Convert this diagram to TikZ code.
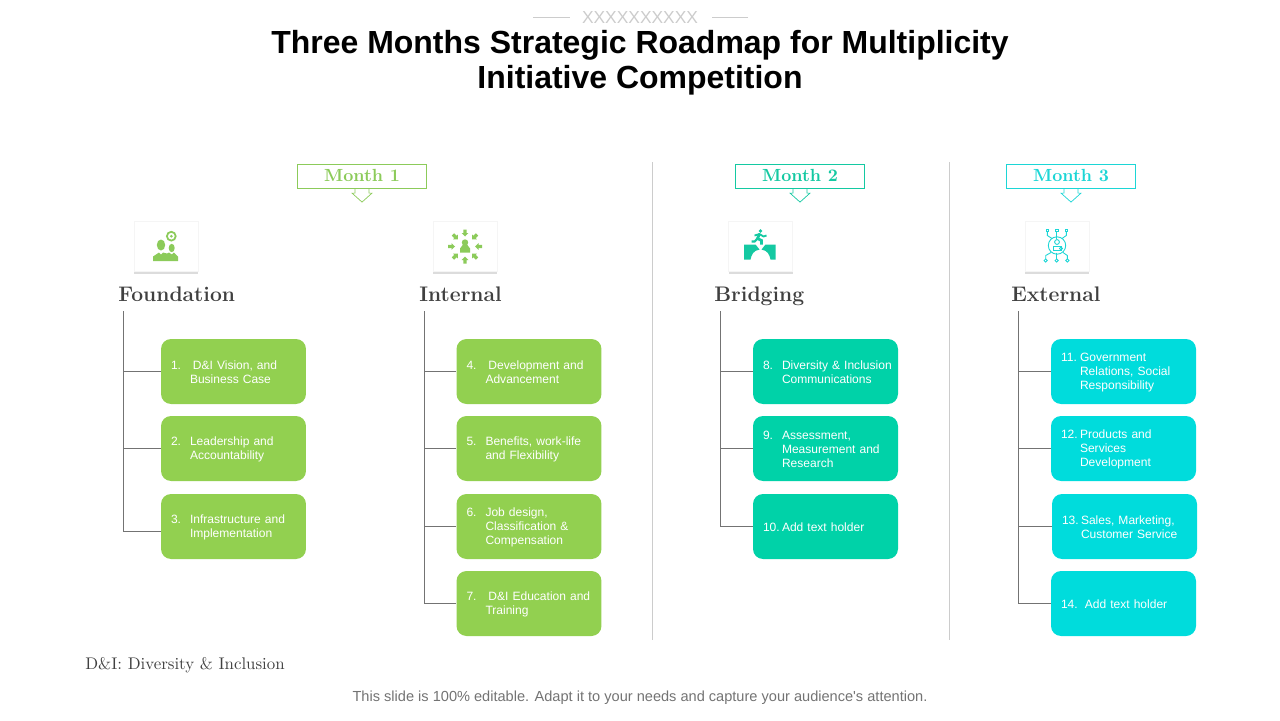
\documentclass[tikz,border=0pt]{standalone}
\usepackage{fontspec}
\usetikzlibrary{calc,shadows}
\newfontfamily\arialfont{Liberation Sans}
\definecolor{leaf}{HTML}{92D050}
\definecolor{leafdark}{HTML}{8CCB5A}
\definecolor{teal}{HTML}{00D2A8}
\definecolor{tealdark}{HTML}{14C9A2}
\definecolor{aqua}{HTML}{00DCDC}
\definecolor{aquadark}{HTML}{1CD6D6}
\definecolor{inkgrey}{HTML}{404040}
\tikzset{
	itembox/.style={rounded corners=0.2cm, minimum width=2.9cm, minimum height=1.3cm, inner xsep=0, inner ysep=0, text width=2.9cm, align=left, text=white, font=\arialfont\fontsize{6.85}{7.94}\selectfont},
	card/.style={fill=white, draw=black!4, minimum width=1.28cm, minimum height=1cm, drop shadow={shadow xshift=0, shadow yshift=-0.06cm, opacity=0.3, fill=black!45}},
	monthbox/.style={draw=#1, fill=white, line width=0.4pt, minimum width=2.58cm, minimum height=0.49cm, inner sep=0, text height=7pt, text depth=1.2pt, text=#1, font=\bfseries\fontsize{10}{12}\selectfont},
	heading/.style={anchor=base west, inner sep=0, text=inkgrey, font=\bfseries\fontsize{12}{14}\selectfont},
	branch/.style={draw=black!55, line width=0.5pt},
	divider/.style={draw=black!20, line width=0.5pt}
}
\def\itemnode[#1](#2)(#3,#4)#5#6{\node[itembox, fill=#1] (#2) at (#3,#4) {\hspace*{0.2cm}\makebox[0.38cm][l]{\rule{0pt}{6.2pt}#5}\parbox[t]{2.32cm}{\raggedright #6}};}
\def\montharrow[#1](#2){\draw[#1, fill=white, line width=0.4pt] ($(#2.south)+(-7,0)$) -- ($(#2.south)+(-7,4)$) -- ($(#2.south)+(-10,4)$) -- ($(#2.south)+(0,13)$) -- ($(#2.south)+(10,4)$) -- ($(#2.south)+(7,4)$) -- ($(#2.south)+(7,0)$);}
\begin{document}
\begin{tikzpicture}[x=0.02cm, y=-0.02cm]
		\useasboundingbox (0,0) rectangle (1280,720);
		%%%%% TITLE %%%%%
		\node[text=black!20, inner sep=0, font=\arialfont\fontsize{9.9}{10}\selectfont] (logo) at (640,18) {XXXXXXXXXX};
		\coordinate (logol) at (533,17);
		\coordinate (logor) at (748,17);
		\draw[black!20, line width=0.4pt] (logol) -- ($(logol)+(37,0)$);
		\draw[black!20, line width=0.4pt] (logor) -- ($(logor)+(-36,0)$);
		\node[align=center, inner sep=0, font=\arialfont\bfseries\fontsize{18.2}{19.84}\selectfont] (title) at (640,62.5) {Three Months Strategic Roadmap for Multiplicity\\Initiative Competition};
		
		%%%%% DIVIDERS %%%%%
		\coordinate (d1t) at (652.5,162);
		\coordinate (d1b) at (652.5,640);
		\coordinate (d2t) at (949.5,162);
		\coordinate (d2b) at (949.5,640);
		\draw[divider] (d1t) -- (d1b);
		\draw[divider] (d2t) -- (d2b);
		
		%%%%% MONTHS %%%%%
		\node[monthbox=leafdark] (month1) at (362,176.5) {Month 1};
		\montharrow[leafdark](month1)
		\node[monthbox=tealdark] (month2) at (800,176.5) {Month 2};
		\montharrow[tealdark](month2)
		\node[monthbox=aquadark] (month3) at (1071,176.5) {Month 3};
		\montharrow[aquadark](month3)
		
		%%%%% CARDS %%%%%
		\node[card] (card1) at (166,246.5) {};
		\node[card] (card2) at (465,246.5) {};
		\node[card] (card3) at (760.5,246.5) {};
		\node[card] (card4) at (1057,246.5) {};
		
		% foundation icon
		\begin{scope}[shift={(card1.center)}, leafdark]
			\fill (-5,-1.5) ellipse (4.2 and 5.5);
			\fill (5.7,1.5) ellipse (3 and 4.2);
			\fill (-13,14.5) -- (-13,10) -- (-7,6) -- (-5,8) -- (-3,6) -- (1,7) -- (3,6) -- (5.7,8) -- (8,6) -- (12,10) -- (12,14.5) -- cycle;
			\draw[line width=1pt] (5.3,-10.3) circle (4.4);
			\fill (5.3,-10.3) circle (1.5);
		\end{scope}
		
		% internal icon
		\begin{scope}[shift={(card2.center)}, leafdark]
			\fill (0,-4) circle (3.2);
			\fill (-5,6) -- (-5,2) -- (-2,-2) -- (2,-2) -- (5,2) -- (5,6) -- cycle;
			\foreach \a in {0,45,...,315}
				\fill[rotate=\a] (17,-1.6) -- (13.5,-1.6) -- (13.5,-3.4) -- (10,0) -- (13.5,3.4) -- (13.5,1.6) -- (17,1.6) -- cycle;
		\end{scope}
		
		% bridging icon
		\begin{scope}[shift={(card3.center)}, tealdark]
			\fill (-16.5,-2) -- (-5,-2) -- (-1,3) .. controls (-7,4) and (-9,8) .. (-10,13) -- (-16.5,13) -- cycle;
			\fill (15,-2) -- (5,-2) -- (1,3) .. controls (7,4) and (9,8) .. (10,13) -- (15,13) -- cycle;
			\fill (0,-15.5) circle (1.9);
			\draw[line width=1.6pt] (-1,-12.5) -- (-3,-8) -- (1,-6) -- (1,-2);
			\draw[line width=1.2pt] (-3,-8) -- (-6,-5) -- (-9,-5);
			\draw[line width=1pt] (-6,-11) -- (-1,-12.5) -- (3,-10) -- (6,-11);
		\end{scope}
		
		% external icon
		\begin{scope}[shift={(card4.center)}, aquadark, line width=0.5pt]
			\draw (0,-1) circle (8.7);
			\draw (0,-4.5) circle (2.4);
			\draw (-4,4) -- (-4,-0.5) -- (4,-0.5) -- (4,4) -- cycle;
			\draw (4,2) circle (1.6);
			\foreach \x/\xb in {-9.7/-5,-0.3/-0.3,9.3/5}{
				\draw (\x-1.3,-17.3) rectangle (\x+1.3,-14.7);
				\draw (\x,-14.7) -- (\x,-11) -- (\xb,-8);
			}
			\foreach \x/\xb in {-11.3/-6,-0.3/-0.3,10.3/6}{
				\draw (\x,14) circle (1.6);
				\draw (\xb,6) -- (\x,9) -- (\x,12.4);
			}
		\end{scope}
		
		%%%%% HEADINGS %%%%%
		\node[heading] (foundation) at (118,301) {Foundation};
		\node[heading] (internal) at (419,301) {Internal};
		\node[heading] (bridging) at (714,301) {Bridging};
		\node[heading] (external) at (1011,301) {External};
		
		%%%%% FOUNDATION %%%%%
		\itemnode[leaf](item1)(233.5,371.5){1.}{\hspace{1.7pt}D\&I Vision, and\\Business Case}
		\itemnode[leaf](item2)(233.5,448.5){2.}{Leadership and\\Accountability}
		\itemnode[leaf](item3)(233.5,526.5){3.}{Infrastructure and\\Implementation}
		\coordinate (trunk1) at (123.5,311);
		\draw[branch] (trunk1) |- (item1.west);
		\draw[branch] (trunk1) |- (item2.west);
		\draw[branch] (trunk1) |- ($(item3.west)+(0,4.5)$);
		
		%%%%% INTERNAL %%%%%
		\itemnode[leaf](item4)(529,371.5){4.}{\hspace{1.7pt}Development and\\Advancement}
		\itemnode[leaf](item5)(529,448.5){5.}{Benefits, work-life\\and Flexibility}
		\itemnode[leaf](item6)(529,526.5){6.}{Job design,\\Classification \&\\Compensation}
		\itemnode[leaf](item7)(529,603.5){7.}{\hspace{1.7pt}D\&I Education and\\Training}
		\coordinate (trunk2) at (424,311);
		\draw[branch] (trunk2) |- (item4.west);
		\draw[branch] (trunk2) |- (item5.west);
		\draw[branch] (trunk2) |- (item6.west);
		\draw[branch] (trunk2) |- (item7.west);
		
		%%%%% BRIDGING %%%%%
		\itemnode[teal](item8)(825.5,371.5){8.}{Diversity \& Inclusion\\Communications}
		\itemnode[teal](item9)(825.5,448.5){9.}{Assessment,\\Measurement and\\Research}
		\itemnode[teal](item10)(825.5,526.5){10.}{Add text holder}
		\coordinate (trunk3) at (720,311);
		\draw[branch] (trunk3) |- (item8.west);
		\draw[branch] (trunk3) |- (item9.west);
		\draw[branch] (trunk3) |- (item10.west);
		
		%%%%% EXTERNAL %%%%%
		\itemnode[aqua](item11)(1123.5,371.5){11.}{Government\\Relations, Social\\Responsibility}
		\itemnode[aqua](item12)(1123.5,448.5){12.}{Products and\\Services\\Development}
		\itemnode[aqua](item13)(1124.5,526.5){13.}{Sales, Marketing,\\Customer Service}
		\itemnode[aqua](item14)(1123.5,603.5){14.}{\hspace{2.8pt}Add text holder}
		\coordinate (trunk4) at (1018.5,311);
		\draw[branch] (trunk4) |- (item11.west);
		\draw[branch] (trunk4) |- (item12.west);
		\draw[branch] (trunk4) |- (item13.west);
		\draw[branch] (trunk4) |- (item14.west);
		
		%%%%% FOOTER %%%%%
		\node[anchor=base west, inner sep=0, text=inkgrey, font=\fontsize{9.6}{12}\selectfont] (note) at (85,669) {D\&I: Diversity \& Inclusion};
		\node[inner sep=0, text=black!55, font=\arialfont\fontsize{8.3}{10}\selectfont] (slide) at (640,697.5) {This slide is 100\% editable. Adapt it to your needs and capture your audience's attention.};
\end{tikzpicture}
\end{document}
